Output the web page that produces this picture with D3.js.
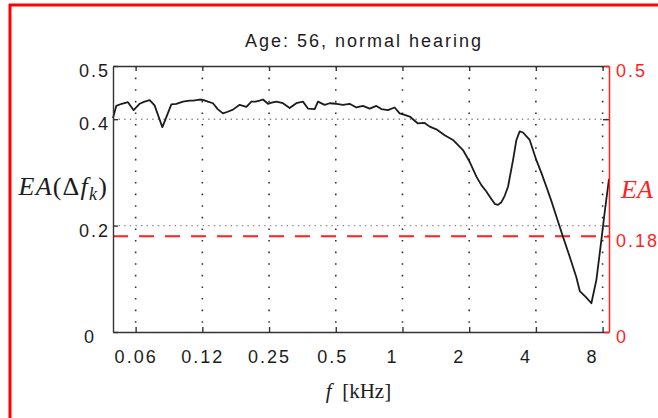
<!DOCTYPE html>
<html>
<head>
<meta charset="utf-8">
<script src="https://cdn.jsdelivr.net/npm/d3@7"></script>
<style>
body { margin: 0; background: #fff; }
svg text { font-family: "Liberation Sans", Arial, sans-serif; }
</style>
</head>
<body>
<svg id="svg1" width="658" height="418"></svg>
<script>
// EA per frequency band

var freqs = [0.0494, 0.0511, 0.0541, 0.0577, 0.0612, 0.0651, 0.0686, 0.0723, 0.0761, 0.0825,
             0.0906, 0.0954, 0.1022, 0.1096, 0.1134, 0.1216, 0.1267, 0.1325, 0.1396, 0.1466,
             0.1548, 0.1626, 0.1718, 0.1842, 0.1975, 0.2080, 0.2175, 0.2267, 0.2347, 0.2472,
             0.2569, 0.2696, 0.2888, 0.3097, 0.3319, 0.3556, 0.3745, 0.4015, 0.4156, 0.4455,
             0.4693, 0.5031, 0.5389, 0.5776, 0.6194, 0.6634, 0.7111, 0.7624, 0.8031, 0.860,
             0.922, 0.971, 1.023, 1.078, 1.175, 1.259, 1.327, 1.422, 1.551, 1.690,
             1.875, 2.010, 2.156, 2.270, 2.391, 2.50, 2.607, 2.698, 2.795, 2.893,
             2.994, 3.154, 3.267, 3.380, 3.499, 3.750, 4.020, 4.234, 4.461, 4.700,
             4.95, 5.30, 5.68, 6.09, 6.31, 6.71, 7.12, 7.50, 7.90, 8.18, 8.55];

var eaValues = [0.402, 0.425, 0.429, 0.432, 0.417, 0.429, 0.433, 0.436, 0.426, 0.385,
                0.428, 0.429, 0.433, 0.435, 0.435, 0.437, 0.436, 0.433, 0.430, 0.419,
                0.411, 0.414, 0.418, 0.427, 0.423, 0.433, 0.433, 0.435, 0.437, 0.429,
                0.431, 0.433, 0.430, 0.421, 0.430, 0.433, 0.420, 0.419, 0.433, 0.427,
                0.430, 0.429, 0.427, 0.429, 0.422, 0.425, 0.420, 0.425, 0.419, 0.417,
                0.422, 0.411, 0.408, 0.405, 0.392, 0.393, 0.386, 0.381, 0.370, 0.361,
                0.342, 0.320, 0.292, 0.276, 0.264, 0.252, 0.241, 0.239, 0.244, 0.256,
                0.273, 0.323, 0.361, 0.377, 0.375, 0.361, 0.323, 0.299, 0.273, 0.246,
                0.217, 0.179, 0.142, 0.103, 0.077, 0.066, 0.054, 0.098, 0.173, 0.226, 0.288];

var threshold = 0.18;

// tick labels are padded like a matlab char matrix
var xTickVals = [0.0625, 0.125, 0.25, 0.5, 1, 2, 4, 8];
var xTickLabels = ["0.06", "0.12", "0.25", "0.5 ", "1   ", "2   ", "4   ", "8   "];
var yTickVals = [0, 0.2, 0.4, 0.5];
var yTickLabels = ["0  ", "0.2", "0.4", "0.5"];
var rTickVals = [0, 0.18, 0.5];
var rTickLabels = ["0", "0.18", "0.5"];
var gridY = [0.2, 0.4];

// (window.top is read only, so no "top" here)
var pLeft = 113, pRight = 609, pTop = 66, pBottom = 332;
var red = "#ff1f1f";
var ink = "#1c1c1c";

var svg = d3.select("#svg1");

var x = d3.scaleLog().domain([0.0494, 8.55]).range([pLeft, pRight]);
var y = d3.scaleLinear().domain([0, 0.5]).range([pBottom, pTop]);

// red frame round the figure
svg.append("line").attr("x1", 9).attr("x2", 658).attr("y1", 5).attr("y2", 5)
    .attr("stroke", "#ff0000").attr("stroke-width", 3);
svg.append("line").attr("x1", 10).attr("x2", 10).attr("y1", 4).attr("y2", 418)
    .attr("stroke", "#ff0000").attr("stroke-width", 3);

// grid
svg.append("g").selectAll("line")
    .data(xTickVals)
    .enter().append("line")
    .attr("x1", d => x(d)).attr("x2", d => x(d))
    .attr("y1", pTop).attr("y2", pBottom)
    .attr("stroke", "#333").attr("stroke-width", 1.6)
    .attr("stroke-dasharray", "1.6,10");

svg.append("g").selectAll("line")
    .data(gridY)
    .enter().append("line")
    .attr("x1", pLeft).attr("x2", pRight)
    .attr("y1", d => y(d)).attr("y2", d => y(d))
    .attr("stroke", "#888").attr("stroke-width", 1.4)
    .attr("stroke-dasharray", "1.4,4.2");

// threshold line
svg.append("line")
    .attr("x1", pLeft).attr("x2", pRight)
    .attr("y1", y(threshold)).attr("y2", y(threshold))
    .attr("stroke", red).attr("stroke-width", 2)
    .attr("stroke-dasharray", "15,11");

// the curve
var line = d3.line()
    .x(d => x(d[0]))
    .y(d => y(d[1]));

svg.append("path")
    .datum(d3.zip(freqs, eaValues))
    .attr("d", line)
    .attr("fill", "none")
    .attr("stroke", ink)
    .attr("stroke-width", 1.8)
    .attr("stroke-linejoin", "round");

// axes
var fs = 18;

var xAxis = svg.append("g")
    .attr("transform", "translate(0," + pBottom + ")")
    .call(d3.axisBottom(x).tickValues(xTickVals).tickSize(-5).tickSizeOuter(0)
        .tickPadding(18).tickFormat((d, i) => xTickLabels[i]));

svg.append("g")
    .attr("transform", "translate(0," + pTop + ")")
    .call(d3.axisTop(x).tickValues(xTickVals).tickSize(-5).tickSizeOuter(0).tickFormat(""));

var yAxis = svg.append("g")
    .attr("transform", "translate(" + pLeft + ",0)")
    .call(d3.axisLeft(y).tickValues(yTickVals).tickSize(-5).tickSizeOuter(0)
        .tickPadding(3).tickFormat((d, i) => yTickLabels[i]));

svg.append("g")
    .attr("transform", "translate(" + pRight + ",0)")
    .call(d3.axisRight(y).tickValues(gridY).tickSize(-6).tickFormat(""))
    .select(".domain").remove();

var rAxis = svg.append("g")
    .attr("transform", "translate(" + pRight + ",0)")
    .call(d3.axisRight(y).tickValues(rTickVals).tickSize(-5).tickSizeOuter(0)
        .tickPadding(7).tickFormat((d, i) => rTickLabels[i]));

svg.selectAll(".domain, .tick line").attr("stroke", "#333").attr("stroke-width", 1.4);
rAxis.selectAll(".domain, .tick line").attr("stroke", red).attr("stroke-width", 1.5);

svg.selectAll(".tick text")
    .attr("font-family", "Liberation Sans, Arial, sans-serif")
    .attr("font-size", fs)
    .attr("letter-spacing", 2)
    .attr("fill", ink)
    .attr("xml:space", "preserve")
    .style("white-space", "pre");

yAxis.selectAll(".tick text").attr("dy", "0.58em");
rAxis.selectAll(".tick text").attr("dy", "0.58em").attr("fill", red);

// title
svg.append("text")
    .attr("x", 364).attr("y", 46.5)
    .attr("text-anchor", "middle")
    .attr("font-size", fs)
    .attr("letter-spacing", 2)
    .attr("fill", ink)
    .text("Age: 56, normal hearing");

// y label, latex style
var yl = svg.append("text")
    .attr("x", 108).attr("y", 195)
    .attr("text-anchor", "end")
    .style("font-family", "Liberation Serif, Times New Roman, serif")
    .attr("font-size", 26)
    .attr("letter-spacing", 1.2)
    .attr("fill", ink);
yl.append("tspan").attr("font-style", "italic").text("EA");
yl.append("tspan").text("(Δ");
yl.append("tspan").attr("font-style", "italic").text("f");
yl.append("tspan").attr("font-style", "italic").attr("font-size", 18).attr("dy", 5).text("k");
yl.append("tspan").attr("dy", -5).text(")");

// right label
svg.append("text")
    .attr("x", 621).attr("y", 198)
    .style("font-family", "Liberation Serif, Times New Roman, serif")
    .attr("font-size", 26)
    .attr("font-style", "italic")
    .attr("fill", red)
    .text("EA");

// x label
var xl = svg.append("text")
    .attr("x", 358.5).attr("y", 398)
    .attr("text-anchor", "middle")
    .style("font-family", "Liberation Serif, Times New Roman, serif")
    .attr("font-size", 21)
    .attr("fill", ink);
xl.append("tspan").attr("font-style", "italic").text("f");
xl.append("tspan").attr("xml:space", "preserve").style("white-space", "pre").text("  [kHz]");
</script>
</body>
</html>
